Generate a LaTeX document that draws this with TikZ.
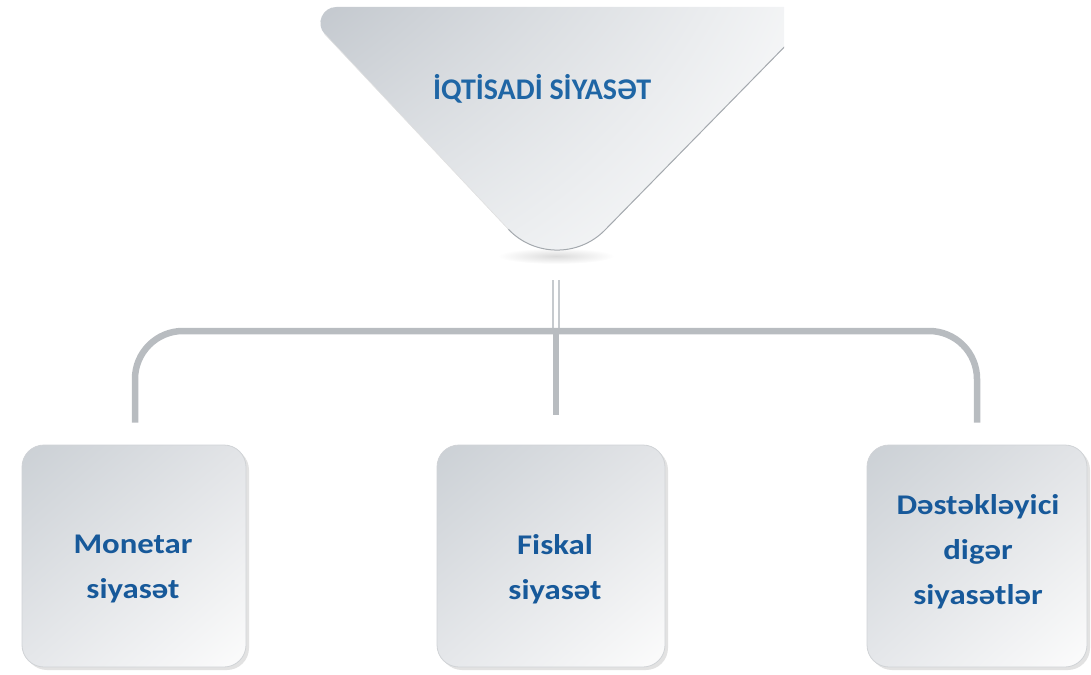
\documentclass[tikz,border=0pt]{standalone}
\usepackage{fontspec}
\newfontfamily\boxfont[FakeStretch=1.15]{Carlito}
\newfontfamily\titlefont{Carlito}
\usetikzlibrary{shadings,shadows,calc}
\definecolor{txtblue}{HTML}{17599A}
\definecolor{titleblue}{HTML}{1F66A5}
\definecolor{bargray}{HTML}{B8BCC0}
\definecolor{stubgray}{HTML}{C6CACE}
\definecolor{edgegray}{HTML}{A4A9AE}
\definecolor{cardA}{HTML}{CBD0D5}
\definecolor{cardB}{HTML}{E2E4E7}
\definecolor{cardC}{HTML}{E5E7EA}
\definecolor{cardD}{HTML}{FCFCFC}
\definecolor{cardedge}{HTML}{D0D3D6}
\definecolor{triA}{HTML}{C3C8CE}
\definecolor{triB}{HTML}{F6F7F8}
\definecolor{triC}{HTML}{E3E6E9}
\definecolor{triD}{HTML}{FFFFFF}
\tikzset{
  card/.style={rounded corners=22pt, minimum width=#1, minimum height=222pt, inner sep=0pt,
    upper left=cardA, upper right=cardB, lower left=cardC, lower right=cardD,
    draw=cardedge, line width=0.8pt,
    drop shadow={shadow xshift=3pt, shadow yshift=-3pt, opacity=0.16, fill=black!70}},
  boxtext/.style={font=\boxfont\bfseries\fontsize{28.5}{45}\selectfont, text=txtblue, align=center, inner sep=0pt},
  titletext/.style={font=\titlefont\bfseries\fontsize{30}{36}\selectfont, text=titleblue, inner sep=0pt},
  bar/.style={draw=bargray, line width=6.5pt},
  stub/.style={draw=stubgray, line width=1.5pt, double=white, double distance=4.5pt}
}
\begin{document}
\begin{tikzpicture}[x=1pt,y=-1pt]
\useasboundingbox (0,0) rectangle (1091,674);
% soft shadow under the tip
\shade[inner color=black!14, outer color=white] (556,256) ellipse (58pt and 8pt);
% triangle
\begin{scope}
  \clip (0,0) rectangle (784,300);
  \shade[upper left=triA, upper right=triB, lower left=triC, lower right=triD]
    (336.4,7) -- (823.5,7) -- (604.8,230.2)
    .. controls (578.4,257.1) and (534.1,256.6) .. (508.3,229.2)
    -- (324.7,34.0) .. controls (315.1,23.8) and (322.4,7) .. (336.4,7) -- cycle;
  \draw[edgegray, line width=1pt] (823.5,7) -- (604.8,230.2)
    .. controls (578.4,257.1) and (534.1,256.6) .. (508.3,229.2);
  \draw[black!12, line width=0.6pt] (508.3,229.2) -- (324.7,34.0);
\end{scope}
\node[titletext] (title) at (542,89) {İQTİSADİ SİYASƏT};

% cards
\node[card=224pt] (mon) at (134,556) {};
\node[card=228pt] (fis) at (551,556) {};
\node[card=220pt] (oth) at (977,556) {};
\node[boxtext] (monT) at ([xshift=-1pt,yshift=-13pt]mon.center) {Monetar\\siyasət};
\node[boxtext] (fisT) at ([xshift=4pt,yshift=-13pt]fis.center) {Fiskal\\siyasət};
\node[boxtext] (othT) at ([xshift=1pt,yshift=4pt]oth.center) {Dəstəkləyici\\digər\\siyasətlər};

% connectors
\coordinate (tip) at (556,280);
\coordinate (hub) at (556,331);
\draw[stub] (tip) -- (hub);
\draw[bar, rounded corners=48pt] ([xshift=1pt,yshift=22pt]mon.north) |- (hub) -| ([yshift=22pt]oth.north);
\draw[bar, line width=5.5pt] (hub) -- ([yshift=30pt]hub |- fis.north);
\end{tikzpicture}
\end{document}
